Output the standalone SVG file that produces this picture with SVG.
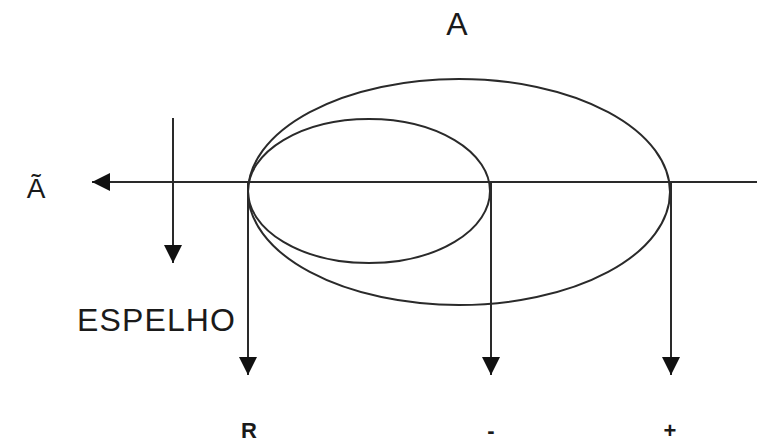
<svg xmlns="http://www.w3.org/2000/svg" width="757" height="444" viewBox="0 0 757 444">
<style>
.ln{stroke:#2a2a2a;stroke-width:2;fill:none}
.tx{font-family:"Liberation Sans",Arial,sans-serif;fill:#1a1a1a}
.lb{font-family:"Liberation Sans",Arial,sans-serif;fill:#1a1a1a;font-weight:bold;font-size:22px;text-anchor:middle}
</style>
<defs>
<marker id="ah" markerUnits="userSpaceOnUse" markerWidth="18" markerHeight="18" viewBox="0 0 16 16" refX="16" refY="8" orient="auto">
<path d="M0,0 L16,8 L0,16 Z" fill="#111"/>
</marker>
</defs>
<rect width="757" height="444" fill="#fff"/>
<g id="ellipses">
<ellipse id="large" class="ln" cx="459" cy="192" rx="211" ry="113"/>
<ellipse id="small" class="ln" cx="369" cy="191" rx="121" ry="72"/>
</g>
<g id="connectors">
<line class="ln" x1="757" y1="182" x2="92" y2="182" marker-end="url(#ah)"/>
<line class="ln" x1="173" y1="118" x2="173" y2="263" marker-end="url(#ah)"/>
<line class="ln" x1="248" y1="182" x2="248" y2="375" marker-end="url(#ah)"/>
<line class="ln" x1="491" y1="182" x2="491" y2="375" marker-end="url(#ah)"/>
<line class="ln" x1="671" y1="182" x2="671" y2="375" marker-end="url(#ah)"/>
</g>
<g id="labels">
<text class="tx" x="457" y="35" font-size="32" text-anchor="middle">A</text>
<text class="tx" x="36" y="198" font-size="28" text-anchor="middle">Ã</text>
<text class="tx" x="77" y="331" font-size="32" textLength="158">ESPELHO</text>
<text class="lb" x="249" y="438">R</text>
<text class="lb" x="491" y="438">-</text>
<text class="lb" x="670" y="438">+</text>
</g>
</svg>
